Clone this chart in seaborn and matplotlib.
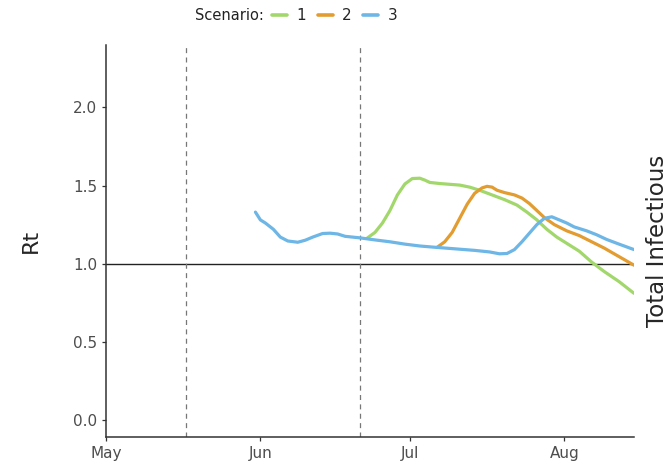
import matplotlib
matplotlib.use("Agg")
import matplotlib.pyplot as plt
import matplotlib.dates as mdates
from matplotlib.lines import Line2D
import numpy as np
import pandas as pd
import seaborn as sns

# Rt estimates per scenario (day offset from 1 May, value)
s3_days = [30.0, 31, 32, 33.6, 35, 36.5, 38.5, 40, 41.5, 43.5, 45, 46.5, 48, 51, 54,
           57, 60, 63, 66, 70, 74, 77, 79, 80.5, 82, 83.5, 85, 86.5, 88, 89.5, 91,
           92.5, 94, 96.5, 98.5, 100.5, 103, 106]
s3_rt = [1.33, 1.28, 1.26, 1.22, 1.17, 1.145, 1.137, 1.15, 1.17, 1.193, 1.195, 1.19,
         1.175, 1.165, 1.152, 1.14, 1.125, 1.113, 1.105, 1.095, 1.085, 1.075, 1.063,
         1.065, 1.09, 1.14, 1.195, 1.25, 1.29, 1.30, 1.28, 1.26, 1.235, 1.21, 1.185,
         1.155, 1.125, 1.09]

s1_days = [52.5, 54, 55.5, 57, 58.5, 60, 61.5, 63, 64, 65, 67, 69, 71, 73, 75, 77.5,
           80, 82.5, 84.5, 86.5, 88.5, 90.5, 92.5, 95, 97.5, 100, 103, 106]
s1_rt = [1.165, 1.20, 1.26, 1.34, 1.44, 1.51, 1.545, 1.547, 1.535, 1.52, 1.513, 1.508,
         1.503, 1.49, 1.47, 1.44, 1.41, 1.375, 1.33, 1.28, 1.22, 1.17, 1.13, 1.08,
         1.01, 0.95, 0.885, 0.81]

s2_days = [66.5, 68, 69.5, 71, 72.5, 74, 75.5, 76.5, 77.5, 78.5, 80, 82, 83.5, 85,
           86.5, 88, 90, 92.5, 95, 97.5, 100, 103, 106]
s2_rt = [1.105, 1.14, 1.20, 1.29, 1.38, 1.45, 1.485, 1.495, 1.49, 1.47, 1.455, 1.44,
         1.42, 1.385, 1.34, 1.295, 1.25, 1.21, 1.18, 1.14, 1.10, 1.045, 0.99]

scenarios = ["1", "2", "3"]
colors = ["#a2d76b", "#e29c30", "#6db6e6"]
intervention_dates = ["2020-05-17", "2020-06-21"]
month_ticks = ["2020-05-01", "2020-06-01", "2020-07-01", "2020-08-01"]
start = pd.Timestamp("2020-05-01")

frames = []
for name, days, rt in zip(scenarios, [s1_days, s2_days, s3_days], [s1_rt, s2_rt, s3_rt]):
    frames.append(pd.DataFrame({
        "date": start + pd.to_timedelta(np.array(days), unit="D"),
        "Rt": rt,
        "Scenario": name,
    }))
df = pd.concat(frames, ignore_index=True)

sns.set_style("ticks")
plt.rcParams["font.family"] = ["DejaVu Sans"]

fig = plt.figure(figsize=(6.63, 4.62), dpi=100)
ax = fig.add_axes([106 / 663, 1 - 437 / 462, (634 - 106) / 663, (437 - 45) / 462])

palette = dict(zip(scenarios, colors))
sns.lineplot(data=df, x="date", y="Rt", hue="Scenario", palette=palette,
             linewidth=2.3, ax=ax, legend=False, sort=False)

ax.axhline(1.0, color="#222222", linewidth=1.0, zorder=1)
for d in intervention_dates:
    ax.axvline(pd.Timestamp(d), color="#777777", linewidth=0.9,
               linestyle=(0, (4, 3.5)), zorder=1)

ax.set_xlim(start, start + pd.Timedelta(days=106))
ax.set_ylim(-0.11, 2.40)
ax.set_yticks([0.0, 0.5, 1.0, 1.5, 2.0])
ax.yaxis.set_major_formatter(matplotlib.ticker.FormatStrFormatter("%.1f"))
ax.set_xticks([pd.Timestamp(m) for m in month_ticks])
ax.xaxis.set_major_formatter(mdates.DateFormatter("%b"))

ax.tick_params(axis="both", labelsize=11, labelcolor="#4d4d4d", color="#333333",
               length=3, width=0.9)
for side in ["left", "bottom"]:
    ax.spines[side].set_color("#333333")
    ax.spines[side].set_linewidth(1.1)
sns.despine(ax=ax)

ax.set_xlabel("")
ax.set_ylabel("Rt", fontsize=16, labelpad=23)

# secondary axis label for case totals
ax2 = ax.twinx()
ax2.set_yticks([])
for s in ax2.spines.values():
    s.set_visible(False)
ax2.set_ylabel("Total Infectious", fontsize=16.5, labelpad=9)

# legend row with inline title
handles = [Line2D([0], [0], color=c, linewidth=2.6) for c in colors]
fig.text(264 / 663, 1 - 16 / 462, "Scenario:", ha="right", va="center",
         fontsize=10.5, color="#222222")
fig.legend(handles, scenarios, loc="center left", bbox_to_anchor=(272 / 663, 1 - 16 / 462),
           ncol=3, frameon=False, fontsize=11, handlelength=1.0,
           handletextpad=0.6, columnspacing=0.75, borderaxespad=0, borderpad=0)

fig.savefig("out.png", dpi=100, facecolor="white")
